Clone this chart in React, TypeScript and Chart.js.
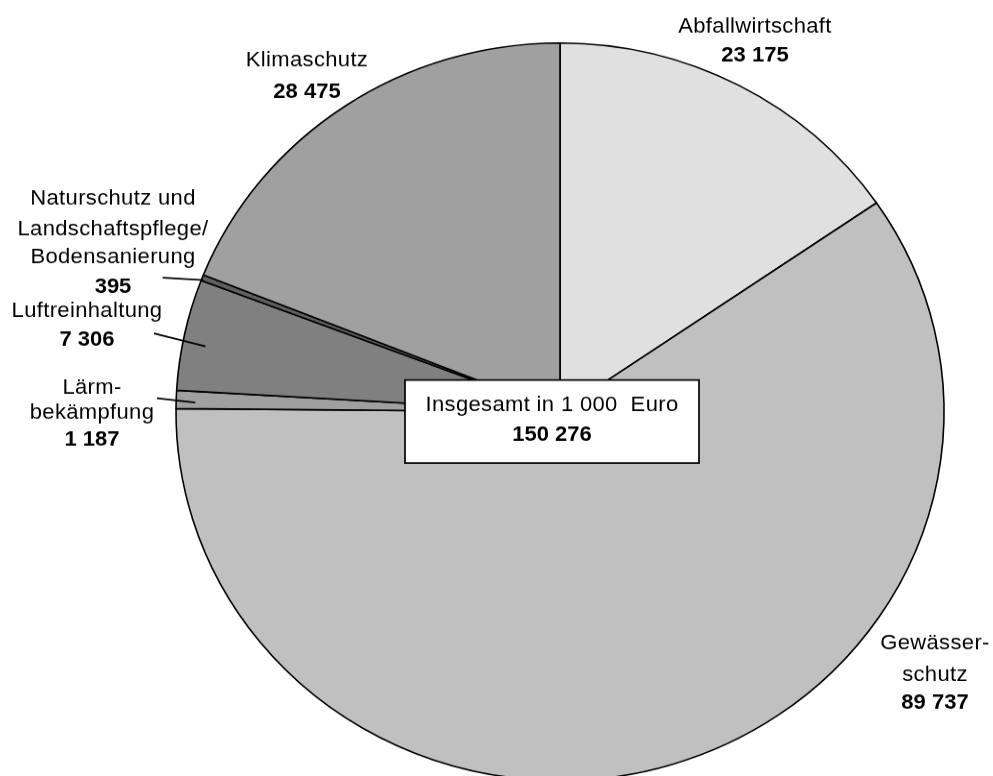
import React, { useEffect, useRef } from "react";
import { Chart, registerables } from "chart.js";

Chart.register(...registerables);

// ---------- data ----------
const categories = [
  "Abfallwirtschaft",
  "Gewässerschutz",
  "Lärmbekämpfung",
  "Luftreinhaltung",
  "Naturschutz und Landschaftspflege/Bodensanierung",
  "Klimaschutz",
];
const values = [23175, 89737, 1187, 7306, 395, 28475];
const valueLabels = ["23 175", "89 737", "1 187", "7 306", "395", "28 475"];
const labelLines = [
  ["Abfallwirtschaft"],
  ["Gewässer-", "schutz"],
  ["Lärm-", "bekämpfung"],
  ["Luftreinhaltung"],
  ["Naturschutz und", "Landschaftspflege/", "Bodensanierung"],
  ["Klimaschutz"],
];
const sliceColors = ["#e0e0e0", "#c0c0c0", "#a0a0a0", "#808080", "#606060", "#a0a0a0"];
const totalTitle = "Insgesamt in 1 000  Euro";
const totalValue = "150 276";

// ---------- layout (screen px) ----------
const K = 0.9604; // vertical squash of the picture
const W = 993;
const H = 830;
const CX = 560;
const CY = 411.7 / K;
const R = 384;

const labelLayout = [
  { x: 755, ys: [27, 56] },
  { x: 935, ys: [643, 675, 703] },
  { x: 92, ys: [388, 413, 440] },
  { x: 87, ys: [311, 340] },
  { x: 113, ys: [199, 229, 257, 287] },
  { x: 307, ys: [60, 92] },
];

const leaders: ({ t: number; rf: number; x: number; y: number } | null)[] = [
  null,
  null,
  { t: 0.36, rf: 0.95, x: 157, y: 398.3 },
  { t: 0.43, rf: 0.94, x: 154, y: 333.3 },
  { t: 0.2, rf: 0.995, x: 162.7, y: 277.7 },
  null,
];

const totalBox = { left: 405, right: 699, top: 380, bottom: 463, y1: 405, y2: 435 };

const FONT = '"Liberation Sans", Arial, sans-serif';
const FS = 22;

const overlayPlugin = {
  id: "overlay",
  afterDatasetsDraw(chart: any) {
    const ctx: CanvasRenderingContext2D = chart.ctx;
    const meta = chart.getDatasetMeta(0);
    ctx.save();
    // leader lines
    ctx.strokeStyle = "#000";
    ctx.lineWidth = 1.8;
    leaders.forEach((ld, i) => {
      if (!ld) return;
      const arc = meta.data[i];
      const p = arc.getProps(["x", "y", "startAngle", "endAngle", "outerRadius"], true);
      const a = p.startAngle + ld.t * (p.endAngle - p.startAngle);
      const r = p.outerRadius * ld.rf;
      ctx.beginPath();
      ctx.moveTo(ld.x, ld.y / K);
      ctx.lineTo(p.x + r * Math.cos(a), p.y + r * Math.sin(a));
      ctx.stroke();
    });

    // total box
    const bx = totalBox.left;
    const by = totalBox.top / K;
    const bw = totalBox.right - totalBox.left;
    const bh = (totalBox.bottom - totalBox.top) / K;
    ctx.fillStyle = "#fff";
    ctx.fillRect(bx, by, bw, bh);
    ctx.lineWidth = 1.7;
    ctx.strokeRect(bx, by, bw, bh);

    ctx.fillStyle = "#000";
    ctx.textAlign = "center";
    ctx.textBaseline = "middle";
    const setSpacing = (v: string) => {
      try {
        (ctx as any).letterSpacing = v;
      } catch (e) {}
    };
    const normal = () => {
      ctx.font = `${FS}px ${FONT}`;
      setSpacing("0.35px");
    };
    const bold = () => {
      ctx.font = `bold ${FS}px ${FONT}`;
      setSpacing("0px");
    };
    const cxBox = (totalBox.left + totalBox.right) / 2;
    normal();
    ctx.fillText(totalTitle, cxBox, totalBox.y1 / K);
    bold();
    ctx.fillText(totalValue, cxBox, totalBox.y2 / K);

    // slice labels
    labelLines.forEach((lines, i) => {
      const lay = labelLayout[i];
      normal();
      lines.forEach((ln, j) => {
        ctx.fillText(ln, lay.x, lay.ys[j] / K);
      });
      bold();
      ctx.fillText(valueLabels[i], lay.x, lay.ys[lines.length] / K);
    });
    ctx.restore();
  },
};

export default function App() {
  const canvasRef = useRef<HTMLCanvasElement | null>(null);

  useEffect(() => {
    if (!canvasRef.current) return;
    const chart = new Chart(canvasRef.current, {
      type: "pie",
      data: {
        labels: categories,
        datasets: [
          {
            data: values,
            backgroundColor: sliceColors,
            borderColor: "#000",
            borderWidth: 1.6,
            hoverOffset: 0,
            offset: 0,
            radius: R,
          } as any,
        ],
      },
      options: {
        animation: false,
        responsive: true,
        maintainAspectRatio: false,
        devicePixelRatio: 1,
        events: [],
        layout: {
          padding: {
            left: CX - R,
            right: W - CX - R,
            top: CY - R,
            bottom: H - CY - R,
          },
        },
        plugins: {
          legend: { display: false },
          tooltip: { enabled: false },
          title: { display: false },
        },
      } as any,
      plugins: [overlayPlugin],
    });
    return () => chart.destroy();
  }, []);

  return (
    <div
      style={{
        position: "fixed",
        left: 0,
        top: 0,
        width: W,
        height: 776,
        overflow: "hidden",
        background: "#fff",
      }}
    >
      <div
        style={{
          position: "relative",
          width: W,
          height: H,
          transform: `scale(1, ${K})`,
          transformOrigin: "0 0",
        }}
      >
        <canvas ref={canvasRef} />
      </div>
    </div>
  );
}
